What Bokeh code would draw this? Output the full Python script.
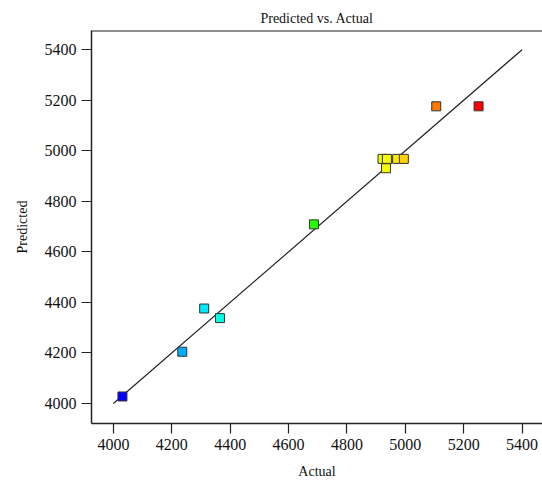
from bokeh.plotting import figure
from bokeh.models import (ColumnDataSource, LinearColorMapper, FixedTicker,
                          Span, Range1d)
from bokeh.transform import transform
from bokeh.embed import file_html
from bokeh.resources import INLINE

# Observed vs. model-predicted response for each run
actual = [4031, 4236, 4311, 4365, 4687, 4922, 4937, 4972, 4995, 4934, 5106, 5251]
predicted = [4028, 4205, 4376, 4338, 4709, 4968, 4968, 4968, 4968, 4931, 5176, 5176]

# y = x reference line end points
diag = [4000, 5400]

tick_values = [4000, 4200, 4400, 4600, 4800, 5000, 5200, 5400]


def rainbow(n):
    stops = [(0, 0, 255), (0, 255, 255), (0, 255, 0), (255, 255, 0), (255, 0, 0)]
    out = []
    for i in range(n):
        t = i / (n - 1) * (len(stops) - 1)
        k = min(int(t), len(stops) - 2)
        f = t - k
        a, b = stops[k], stops[k + 1]
        c = [round(a[j] + (b[j] - a[j]) * f) for j in range(3)]
        out.append("#%02x%02x%02x" % tuple(c))
    return out


src = ColumnDataSource(dict(actual=actual, predicted=predicted))
cmap = LinearColorMapper(palette=rainbow(256), low=min(actual), high=max(actual))

FONT = "Times New Roman"

p = figure(width=542, height=481, output_backend="svg", toolbar_location=None,
           x_range=Range1d(3925, 5470), y_range=Range1d(3921, 5476),
           title="Predicted vs. Actual",
           min_border_left=91, min_border_right=0,
           min_border_top=30, min_border_bottom=57)

p.title.align = "center"
p.title.text_font = FONT
p.title.text_font_size = "14px"
p.title.text_font_style = "normal"
p.title.text_color = "#111111"

p.outline_line_color = None
p.grid.visible = False
p.background_fill_color = "white"
p.border_fill_color = "white"

p.axis.ticker = FixedTicker(ticks=tick_values)
p.xaxis.axis_label = "Actual"
p.yaxis.axis_label = "Predicted"
p.axis.axis_label_text_font = FONT
p.axis.axis_label_text_font_size = "14px"
p.axis.axis_label_text_font_style = "normal"
p.axis.axis_label_text_color = "#111111"
p.axis.major_label_text_font = FONT
p.axis.major_label_text_font_size = "16px"
p.axis.major_label_text_font_style = "normal"
p.axis.major_label_text_color = "#111111"
p.axis.axis_line_color = "#222222"
p.axis.axis_line_width = 1.5
p.axis.major_tick_line_color = "#222222"
p.axis.major_tick_line_width = 1.2
p.axis.major_tick_in = 0
p.axis.major_tick_out = 10
p.axis.minor_tick_line_color = None
p.axis.major_label_standoff = 5

p.yaxis.axis_label_standoff = 12
p.xaxis.axis_label_standoff = 11

# top border of the plotting region
p.add_layout(Span(location=5476, dimension="width", line_color="#222222",
                  line_width=2))

p.line(diag, diag, line_color="#222222", line_width=1.2)

p.scatter("actual", "predicted", source=src, marker="square", size=9,
          fill_color=transform("actual", cmap), line_color="#333333",
          line_width=1)

open("out.html", "w").write(file_html(p, INLINE))
